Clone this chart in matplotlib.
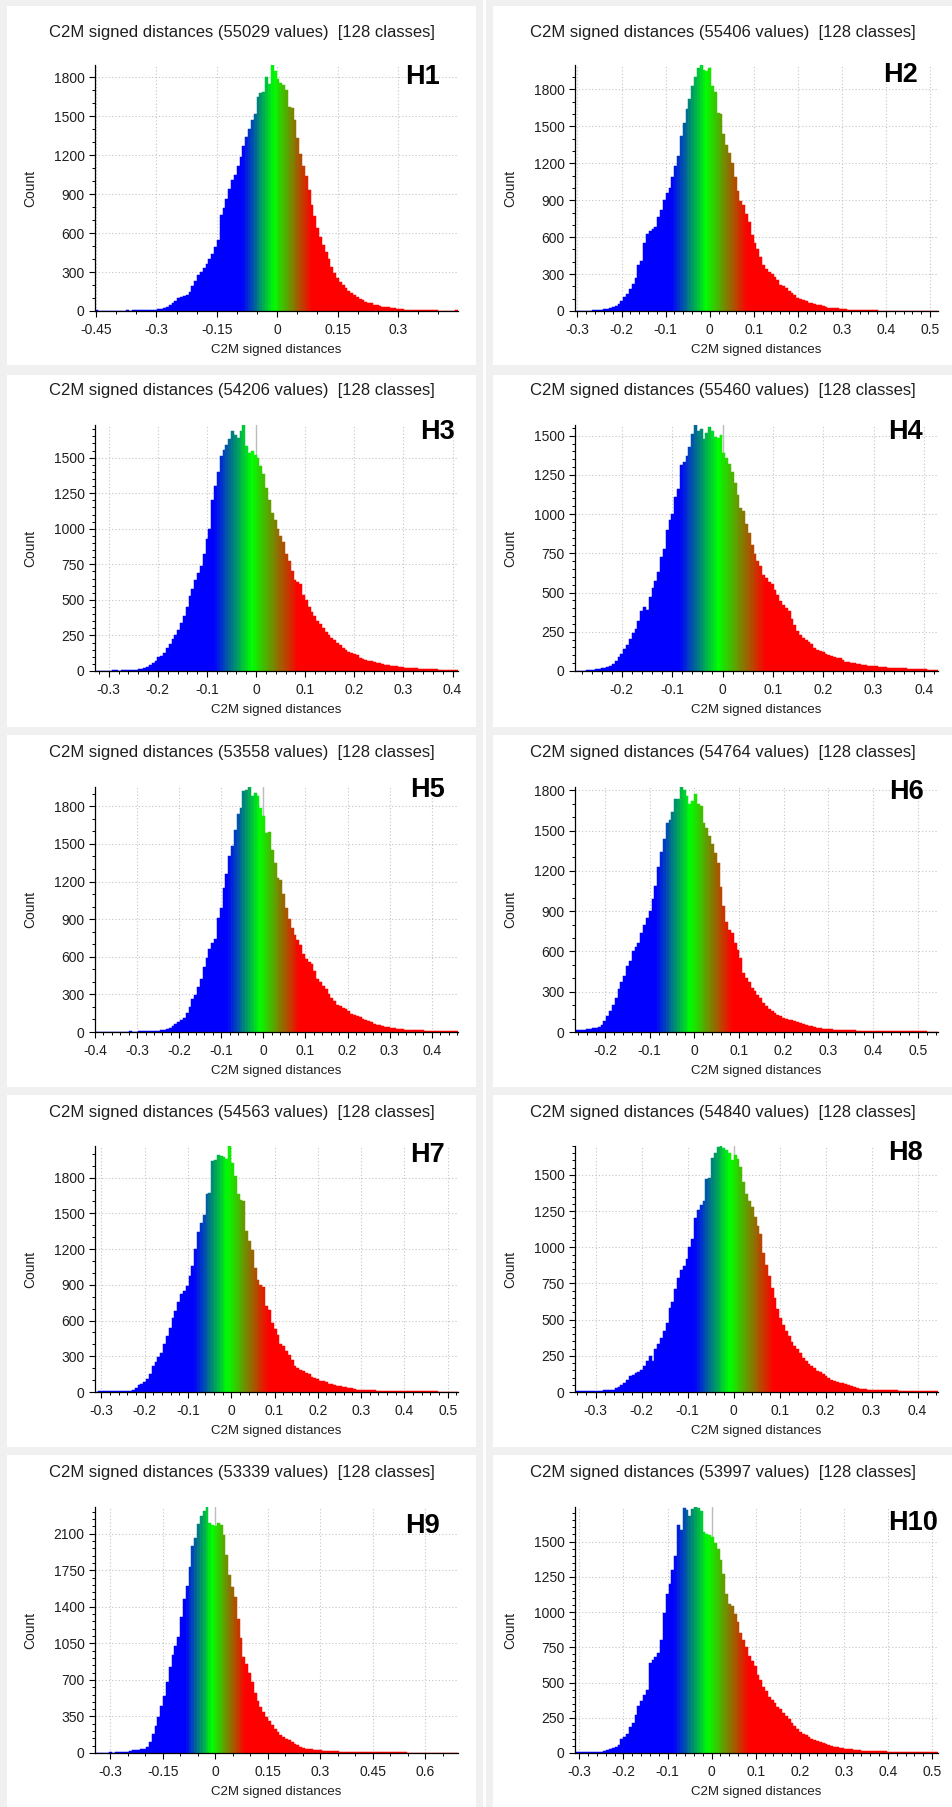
import numpy as np
import matplotlib
matplotlib.use("Agg")
import matplotlib.pyplot as plt
from matplotlib.patches import Rectangle
from matplotlib.ticker import MultipleLocator, FuncFormatter

plt.rcParams['font.family'] = ['Liberation Sans', 'DejaVu Sans']
plt.rcParams['axes.unicode_minus'] = False

# ---------------- data ----------------
panel_names = ['H1', 'H2', 'H3', 'H4', 'H5', 'H6', 'H7', 'H8', 'H9', 'H10']
n_values = [55029, 55406, 54206, 55460, 53558, 54764, 54563, 54840, 53339, 53997]
n_classes = 128
x_min = [-0.4525, -0.3056, -0.328, -0.293, -0.400, -0.267, -0.3146, -0.345, -0.344, -0.310]
x_max = [0.449, 0.518, 0.411, 0.428, 0.4625, 0.5455, 0.5238, 0.4445, 0.694, 0.5136]
x_major = [0.15, 0.1, 0.1, 0.1, 0.1, 0.1, 0.1, 0.1, 0.15, 0.1]
y_major = [300, 300, 250, 250, 300, 300, 300, 250, 350, 250]

counts_h1 = [5, 3, 2, 3, 2, 2, 1, 2, 3, 2, 3, 4, 3, 4, 5, 4, 5,
             5, 6, 7, 8, 10, 13, 17, 22, 32, 44, 58,
             78, 100, 110, 113, 125, 150, 190, 232, 275, 300, 330, 360, 400, 440, 490, 545,
             740, 790, 860, 940, 1010, 1050, 1120, 1190, 1270, 1340, 1400, 1470, 1520, 1650, 1680, 1690,
             1800, 1745, 1895, 1845, 1790, 1760, 1740, 1700, 1574, 1560, 1470, 1330, 1210, 1120, 1040, 930,
             820, 730, 640, 570, 510, 455, 400, 340, 295, 255, 225, 198, 175, 155, 140, 125,
             110, 95, 85, 73, 65, 58, 50, 44, 38, 33, 30, 27, 24, 20, 16, 14,
             12, 11, 10, 9, 8, 8, 7, 6, 6, 5, 5, 4, 4, 3, 3, 3, 2, 3, 2, 4]
counts_h2 = [4, 3, 2, 4, 3, 4, 5, 6, 8, 10, 14, 20, 26, 32, 40, 60,
             80, 115, 140, 180, 220, 270, 370, 410, 550, 625, 650, 662, 680, 760, 820, 900,
             960, 1000, 1090, 1175, 1260, 1420, 1530, 1640, 1720, 1830, 1900, 1970, 1998, 1960, 1950, 1975,
             1830, 1775, 1610, 1600, 1440, 1350, 1280, 1200, 1090, 975, 890, 860, 790, 720, 620, 550,
             500, 440, 370, 340, 320, 300, 275, 250, 215, 200, 185, 165, 145, 128, 108, 95,
             88, 82, 68, 62, 55, 50, 45, 38, 33, 28, 25, 23, 21, 18, 14, 13,
             12, 11, 10, 9, 8, 8, 7, 6, 6, 5, 5, 4, 4, 4, 3, 3,
             3, 3, 2, 3, 2, 2, 2, 2, 1, 2, 1, 2, 1, 1, 1, 2]
counts_h3 = [3, 2, 3, 2, 3, 3, 4, 4, 3, 5, 5, 6, 7, 7, 9, 12,
             16, 22, 30, 40, 54, 72, 95, 108, 130, 162, 188, 228, 250, 285, 335, 385,
             450, 530, 575, 640, 690, 740, 820, 925, 1000, 1200, 1300, 1400, 1510, 1555, 1590, 1630,
             1690, 1660, 1640, 1690, 1730, 1580, 1535, 1545, 1520, 1500, 1440, 1385, 1290, 1200, 1110, 1060,
             1000, 950, 905, 820, 775, 700, 640, 625, 610, 535, 500, 450, 415, 390, 355, 332,
             300, 275, 255, 230, 215, 200, 182, 160, 145, 132, 125, 118, 110, 90, 84, 78,
             72, 68, 64, 58, 54, 48, 44, 40, 36, 34, 32, 30, 27, 24, 22, 21,
             20, 19, 17, 15, 14, 13, 12, 12, 11, 10, 9, 8, 7, 7, 6, 5]
counts_h4 = [2, 2, 3, 3, 4, 5, 7, 12, 15, 20, 22, 28, 34, 42, 65, 88,
             110, 140, 165, 205, 240, 268, 320, 380, 410, 390, 470, 530, 575, 630, 725, 780,
             900, 960, 1000, 1110, 1160, 1310, 1330, 1370, 1430, 1510, 1568, 1530, 1545, 1480, 1520, 1558,
             1530, 1490, 1485, 1505, 1390, 1360, 1320, 1270, 1200, 1120, 1040, 1020, 940, 880, 800, 745,
             700, 670, 610, 590, 570, 555, 515, 485, 445, 420, 400, 380, 330, 295, 255, 230,
             212, 200, 185, 172, 145, 136, 126, 118, 108, 100, 95, 91, 86, 80, 68, 60,
             56, 53, 50, 46, 42, 38, 36, 34, 33, 32, 30, 28, 25, 24, 22, 21,
             20, 19, 18, 17, 16, 15, 14, 13, 12, 12, 11, 10, 9, 8, 7, 6]
counts_h5 = [2, 2, 2, 3, 2, 2, 3, 3, 2, 3, 3, 3, 4, 3, 3, 4,
             4, 5, 5, 6, 6, 8, 11, 14, 18, 22, 34, 48, 62, 82, 93, 115,
             150, 200, 260, 295, 360, 420, 520, 590, 660, 710, 740, 910, 990, 1150, 1260, 1400,
             1480, 1610, 1740, 1790, 1920, 1930, 1954, 1880, 1910, 1880, 1790, 1720, 1585, 1595, 1450, 1345,
             1230, 1215, 1100, 990, 900, 830, 775, 735, 690, 620, 580, 555, 540, 485, 420, 400,
             370, 345, 300, 270, 245, 218, 205, 192, 180, 165, 145, 135, 128, 120, 105, 92,
             85, 76, 64, 58, 53, 48, 42, 38, 34, 31, 27, 22, 20, 18, 16, 15,
             14, 13, 13, 12, 10, 9, 8, 8, 7, 6, 6, 5, 5, 4, 4, 4]
counts_h6 = [12, 13, 15, 18, 22, 24, 28, 33, 38, 50, 80, 120, 155, 200, 250, 320,
             375, 420, 490, 530, 600, 630, 660, 740, 800, 850, 900, 990, 1090, 1230, 1340, 1440,
             1560, 1580, 1640, 1733, 1735, 1825, 1800, 1760, 1700, 1720, 1770, 1700, 1685, 1560, 1520, 1460,
             1400, 1330, 1260, 1080, 940, 820, 760, 740, 660, 610, 550, 440, 405, 370, 330, 305,
             272, 250, 215, 195, 175, 158, 142, 130, 118, 108, 98, 92, 86, 80, 72, 64,
             58, 52, 46, 42, 36, 31, 28, 25, 23, 21, 19, 18, 17, 16, 15, 14,
             13, 12, 12, 11, 10, 10, 9, 8, 8, 7, 7, 7, 7, 6, 7, 6,
             6, 6, 5, 5, 5, 5, 5, 4, 5, 4, 4, 4, 3, 3, 3, 3]
counts_h7 = [4, 5, 5, 5, 5, 6, 6, 6, 7, 6, 7, 9, 12, 20, 36, 55,
             70, 85, 110, 150, 215, 250, 290, 330, 400, 470, 540, 620, 680, 760, 820, 850,
             890, 975, 1060, 1200, 1340, 1420, 1490, 1660, 1670, 1940, 1946, 1990, 1985, 1975, 1960, 2066,
             1926, 1810, 1660, 1610, 1600, 1350, 1270, 1190, 1040, 940, 900, 880, 720, 690, 580, 530,
             480, 400, 385, 345, 310, 265, 220, 200, 185, 174, 160, 150, 130, 118, 108, 95,
             90, 80, 70, 64, 58, 52, 47, 43, 40, 37, 32, 26, 20, 18, 17, 16,
             15, 14, 13, 12, 11, 10, 9, 9, 8, 8, 8, 8, 7, 7, 6, 7,
             6, 6, 6, 5, 6, 5, 5, 5, 5, 4, 4, 4, 3, 4, 3, 3]
counts_h8 = [8, 9, 8, 9, 8, 9, 10, 9, 10, 10, 11, 12, 13, 16, 27, 37,
             50, 64, 85, 112, 120, 130, 140, 155, 180, 215, 247, 212, 300, 335, 370, 420,
             480, 580, 625, 715, 790, 840, 870, 920, 1005, 1060, 1200, 1260, 1290, 1320, 1470, 1482,
             1620, 1650, 1690, 1700, 1685, 1675, 1655, 1600, 1640, 1609, 1555, 1450, 1370, 1320, 1280, 1210,
             1147, 1090, 960, 880, 800, 720, 650, 575, 510, 460, 420, 390, 345, 315, 295, 270,
             235, 215, 195, 178, 166, 148, 135, 126, 112, 95, 85, 75, 66, 62, 60, 53,
             45, 39, 32, 27, 24, 21, 19, 17, 15, 14, 13, 13, 12, 12, 12, 11,
             12, 11, 10, 10, 9, 9, 9, 9, 8, 9, 8, 8, 7, 8, 7, 7]
counts_h9 = [4, 3, 4, 3, 4, 5, 4, 5, 5, 6, 8, 14, 20, 26, 28, 31,
             35, 40, 55, 110, 180, 260, 340, 450, 550, 680, 820, 940, 1020, 1110, 1300, 1470,
             1600, 1780, 1980, 2060, 2190, 2270, 2320, 2355, 2200, 2185, 2170, 2205, 2180, 2090, 1900, 1700,
             1590, 1490, 1280, 1100, 920, 850, 770, 680, 570, 500, 440, 390, 345, 310, 265, 230,
             200, 175, 150, 135, 120, 102, 86, 74, 60, 50, 43, 39, 34, 31, 28, 26,
             22, 20, 18, 17, 16, 15, 14, 13, 12, 12, 11, 10, 10, 10, 10, 10,
             9, 9, 8, 7, 7, 6, 6, 6, 6, 5, 6, 5, 5, 5, 4, 4,
             4, 4, 4, 3, 4, 3, 3, 3, 3, 3, 2, 3, 2, 2, 2, 3]
counts_h10 = [4, 5, 5, 6, 6, 7, 7, 8, 9, 10, 12, 18, 25, 32, 40, 55,
              100, 115, 135, 185, 215, 270, 330, 370, 410, 450, 640, 660, 680, 710, 800, 990,
              1130, 1200, 1300, 1400, 1620, 1585, 1735, 1726, 1680, 1730, 1745, 1735, 1715, 1570, 1552, 1548,
              1530, 1490, 1450, 1370, 1270, 1130, 1060, 1040, 985, 930, 850, 800, 750, 690, 650, 615,
              550, 515, 470, 440, 400, 375, 355, 325, 310, 285, 260, 240, 210, 190, 170, 152,
              138, 126, 114, 100, 90, 82, 76, 71, 64, 59, 51, 46, 40, 36, 34, 31,
              28, 25, 23, 21, 19, 17, 15, 14, 13, 13, 12, 12, 11, 11, 10, 10,
              9, 9, 8, 8, 7, 7, 7, 6, 6, 6, 6, 5, 5, 5, 5, 5]
all_counts = [counts_h1, counts_h2, counts_h3, counts_h4, counts_h5,
              counts_h6, counts_h7, counts_h8, counts_h9, counts_h10]

# colour scale nodes (Blue > Green > Red), in C2M distance units
scale_nodes = [-0.085, -0.008, 0.086]

# ---------------- layout (pixels) ----------------
W, H = 953, 1807
col_panel = [(7, 476), (493, 953)]
row_panel = [(6, 365), (375, 727), (735, 1087), (1095, 1447), (1455, 1807)]
col_axes = [(95, 458), (575, 938)]
row_axes = [(65, 311), (425, 671), (787, 1032), (1146, 1392), (1507, 1753)]
title_y = [32, 391, 752, 1112, 1473]
tag_pos = [(440, 77), (918, 75), (455, 432), (923, 432), (445, 790), (924, 792),
           (445, 1155), (923, 1153), (440, 1526), (938, 1523)]
zero_marker = [False, False, True, True, True, False, False, True, True, True]

TXT = '#1e1e1e'

fig = plt.figure(figsize=(W / 100, H / 100), dpi=100, facecolor='#f0f0f0')


def frac(l, t, r, b):
    return [l / W, 1 - b / H, (r - l) / W, (b - t) / H]


def add_rect(l, t, r, b, color):
    fig.add_artist(Rectangle((l / W, 1 - b / H), (r - l) / W, (b - t) / H,
                             transform=fig.transFigure, facecolor=color,
                             edgecolor='none', zorder=-5))


for (pl, pr) in col_panel:
    for (pt, pb) in row_panel:
        add_rect(pl, pt, pr, pb, 'white')
add_rect(483, 0, 486, H, 'white')


def bgr(v):
    r = np.interp(v, scale_nodes, [0, 0, 1])
    g = np.interp(v, scale_nodes, [0, 1, 0])
    b = np.interp(v, scale_nodes, [1, 0, 0])
    return np.stack([r, g, b], axis=1)


fmt = FuncFormatter(lambda v, p: '%g' % (round(v, 6) + 0.0))

for k in range(10):
    row, col = divmod(k, 2)
    al, ar = col_axes[col]
    at, ab = row_axes[row]
    ax = fig.add_axes(frac(al, at, ar, ab))
    counts = np.array(all_counts[k], dtype=float)
    lo, hi = x_min[k], x_max[k]
    edges = np.linspace(lo, hi, n_classes + 1)
    width = (hi - lo) / n_classes
    centers = edges[:-1] + width / 2
    cols = bgr(centers)
    ax.bar(edges[:-1], counts, width=width, align='edge', color=cols,
           edgecolor=cols, linewidth=0.35, zorder=2)
    if zero_marker[k]:
        ax.axvline(0, color='#bdbdbd', lw=1.0, zorder=1.5)
    ax.set_xlim(lo, hi)
    ax.set_ylim(0, counts.max())

    xm = x_major[k]
    ym = y_major[k]
    ax.xaxis.set_major_locator(MultipleLocator(xm))
    ax.xaxis.set_minor_locator(MultipleLocator(xm / 3 if abs(xm - 0.15) < 1e-9 else xm / 5))
    ax.yaxis.set_major_locator(MultipleLocator(ym))
    ax.yaxis.set_minor_locator(MultipleLocator(ym / 3 if ym == 300 else ym / 5))
    ax.xaxis.set_major_formatter(fmt)
    ax.yaxis.set_major_formatter(fmt)

    ax.set_axisbelow(True)
    ax.grid(True, which='major', color='#c4c4c4', linestyle=(0, (1, 2)), linewidth=0.8)
    for s in ['top', 'right']:
        ax.spines[s].set_visible(False)
    for s in ['left', 'bottom']:
        ax.spines[s].set_color('#000000')
        ax.spines[s].set_linewidth(0.9)
    ax.tick_params(axis='both', which='major', direction='out', length=4.5, width=0.8,
                   colors='#000000', labelcolor=TXT, labelsize=10)
    ax.tick_params(axis='both', which='minor', direction='out', length=2.2, width=0.7,
                   colors='#000000')
    ax.tick_params(axis='x', which='major', pad=4)
    ax.tick_params(axis='y', which='major', pad=3)
    ax.set_facecolor('white')

    aw = ar - al
    ah = ab - at
    ax.set_xlabel('C2M signed distances', fontsize=9.5, color=TXT)
    ax.xaxis.set_label_coords(0.5, -39 / ah)
    ax.xaxis.label.set_va('center')
    ax.set_ylabel('Count', fontsize=10, color=TXT)
    ax.yaxis.set_label_coords(-65 / aw, 0.5)
    ax.yaxis.label.set_va('center')
    ax.yaxis.label.set_ha('center')

    pl, pr = col_panel[col]
    fig.text(((pl + pr) / 2) / W, 1 - title_y[row] / H,
             'C2M signed distances (%d values)  [%d classes]' % (n_values[k], n_classes),
             ha='center', va='center', fontsize=12, color=TXT)
    tx, ty = tag_pos[k]
    fig.text(tx / W, 1 - ty / H, panel_names[k], ha='right', va='center',
             fontsize=19.5, fontweight='bold', color='#000000')

fig.savefig('out.png', dpi=100, facecolor=fig.get_facecolor())
